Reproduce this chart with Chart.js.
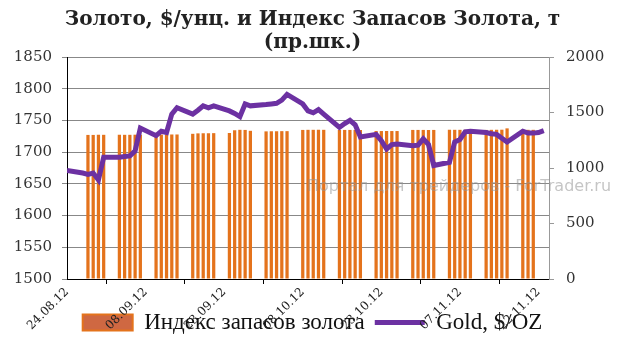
<!DOCTYPE html>
<html>
<head>
<meta charset="utf-8">
<script src="https://cdn.jsdelivr.net/npm/chart.js@4.4.0/dist/chart.umd.min.js"></script>
<style>
  html, body { margin: 0; padding: 0; background: #fff; }
  #wrap { width: 625px; height: 354px; position: relative; }
</style>
</head>
<body>
<div id="wrap"><canvas id="goldChart"></canvas></div>
<script>
// axis runs day by day from 24.08.12 to 24.11.12
const startDay = '24.08';
const endDay = '24.11';
const tickLabels = ['24.08.12', '08.09.12', '23.09.12', '08.10.12', '23.10.12', '07.11.12', '22.11.12'];

// Gold, $/OZ (left axis)
const goldDates = [
  '24.08', '27.08', '28.08', '29.08', '30.08', '31.08',
  '03.09', '04.09', '05.09', '06.09', '07.09',
  '10.09', '11.09', '12.09', '13.09', '14.09',
  '17.09', '18.09', '19.09', '20.09', '21.09',
  '24.09', '25.09', '26.09', '27.09', '28.09',
  '01.10', '02.10', '03.10', '04.10', '05.10',
  '08.10', '09.10', '10.10', '11.10', '12.10',
  '15.10', '16.10', '17.10', '18.10', '19.10',
  '22.10', '23.10', '24.10', '25.10', '26.10',
  '29.10', '30.10', '31.10', '01.11', '02.11',
  '05.11', '06.11', '07.11', '08.11', '09.11',
  '12.11', '13.11', '14.11', '15.11', '16.11',
  '19.11', '20.11', '21.11', '22.11', '23.11'
];
const goldPrice = [
  1671, 1667, 1665, 1667, 1656, 1692,
  1692, 1693, 1694, 1702, 1738,
  1726, 1733, 1731, 1760, 1770,
  1760, 1766, 1773, 1770, 1773,
  1765, 1761, 1756, 1776, 1773,
  1775, 1776, 1777, 1782, 1791,
  1776, 1765, 1762, 1767, 1760,
  1739, 1745, 1750, 1743, 1724,
  1728, 1718, 1705, 1712, 1713,
  1710, 1711, 1721, 1712, 1679,
  1684, 1716, 1720, 1732, 1733,
  1731, 1729, 1728, 1722, 1716,
  1733, 1730, 1730, 1731, 1734
];

// Индекс запасов золота, т (right axis)
const reserveDates = [
  '28.08', '29.08', '30.08', '31.08',
  '03.09', '04.09', '05.09', '06.09', '07.09',
  '10.09', '11.09', '12.09', '13.09', '14.09',
  '17.09', '18.09', '19.09', '20.09', '21.09',
  '24.09', '25.09', '26.09', '27.09', '28.09',
  '01.10', '02.10', '03.10', '04.10', '05.10',
  '08.10', '09.10', '10.10', '11.10', '12.10',
  '15.10', '16.10', '17.10', '18.10', '19.10',
  '22.10', '23.10', '24.10', '25.10', '26.10',
  '29.10', '30.10', '31.10', '01.11', '02.11',
  '05.11', '06.11', '07.11', '08.11', '09.11',
  '12.11', '13.11', '14.11', '15.11', '16.11',
  '19.11', '20.11', '21.11'
];
const reserveTonnes = [
  1298, 1298, 1299, 1299,
  1299, 1299, 1299, 1300, 1300,
  1300, 1301, 1301, 1302, 1302,
  1308, 1312, 1313, 1313, 1314,
  1315, 1340, 1344, 1343, 1335,
  1330, 1331, 1331, 1332, 1332,
  1343, 1344, 1344, 1344, 1344,
  1343, 1343, 1343, 1343, 1343,
  1333, 1333, 1333, 1333, 1333,
  1343, 1343, 1343, 1343, 1343,
  1344, 1344, 1344, 1344, 1344,
  1343, 1344, 1345, 1345, 1357,
  1344, 1344, 1344
];

// days since the first date of the axis
function dayNo(s) {
  const [d, m] = s.split('.').map(Number);
  const [d0, m0] = startDay.split('.').map(Number);
  return (Date.UTC(2012, m - 1, d) - Date.UTC(2012, m0 - 1, d0)) / 86400000;
}

const goldPoints = goldDates.map((s, i) => ({ x: dayNo(s), y: goldPrice[i] }));
const reservePoints = reserveDates.map((s, i) => ({ x: dayNo(s), y: reserveTonnes[i] }));

const serif = '"DejaVu Serif", serif';

// faint site mark over the plot
const watermark = {
  id: 'watermark',
  afterDatasetsDraw(chart) {
    const ctx = chart.ctx;
    ctx.save();
    ctx.font = '16px "DejaVu Sans", sans-serif';
    ctx.fillStyle = 'rgba(150,150,150,0.55)';
    ctx.textBaseline = 'middle';
    ctx.fillText('Портал для трейдеров - ForTrader.ru', 307, 187);
    ctx.restore();
  }
};

// rotated date labels hang down next to the legend, so let them run past the axis box
const longDateLabels = {
  id: 'longDateLabels',
  afterLayout(chart) {
    chart.scales.x.bottom = chart.height;
  }
};

new Chart(document.getElementById('goldChart'), {
  type: 'bar',
  data: {
    datasets: [
      {
        type: 'bar',
        label: 'Индекс запасов золота',
        data: reservePoints,
        yAxisID: 'yR',
        backgroundColor: '#E4731C',
        borderWidth: 0,
        barPercentage: 0.62,
        categoryPercentage: 1,
        pointStyle: 'rect',
        order: 1
      },
      {
        type: 'line',
        label: 'Gold, $/OZ',
        data: goldPoints,
        yAxisID: 'yL',
        borderColor: '#6C31A2',
        backgroundColor: '#6C31A2',
        borderWidth: 5,
        pointRadius: 0,
        tension: 0,
        pointStyle: 'line',
        order: 0
      }
    ]
  },
  options: {
    responsive: true,
    maintainAspectRatio: false,
    animation: false,
    layout: { padding: { left: 0, right: 0, top: 0, bottom: 10 } },
    plugins: {
      title: {
        display: true,
        text: ['Золото, $/унц. и Индекс Запасов Золота, т', '(пр.шк.)'],
        color: '#222',
        font: { family: serif, size: 20, weight: 'bold', lineHeight: 1.15 },
        padding: { top: 8, bottom: 3 }
      },
      legend: {
        position: 'bottom',
        reverse: true,
        labels: {
          usePointStyle: true,
          pointStyleWidth: 50,
          boxHeight: 16,
          padding: 10,
          color: '#111',
          font: { family: '"Liberation Serif", serif', size: 23 },
          generateLabels(chart) {
            const items = Chart.defaults.plugins.legend.labels.generateLabels(chart);
            items.forEach(it => {
              if (it.pointStyle === 'rect') {
                it.fillStyle = '#CF6842';
                it.strokeStyle = '#E4731C';
                it.lineWidth = 2;
              }
            });
            return items;
          }
        }
      },
      tooltip: { enabled: false }
    },
    scales: {
      x: {
        type: 'linear',
        offset: false,
        min: dayNo(startDay),
        max: dayNo(endDay),
        afterFit: s => { s.height = 22; },
        grid: { drawOnChartArea: false, drawTicks: true, tickLength: 5, color: '#000' },
        border: { color: '#000', width: 1 },
        ticks: {
          stepSize: 15,
          includeBounds: false,
          autoSkip: false,
          minRotation: 45,
          maxRotation: 45,
          padding: 1,
          color: '#222',
          font: { family: serif, size: 12 },
          callback: v => tickLabels[v / 15]
        }
      },
      yL: {
        position: 'left',
        min: 1500,
        max: 1850,
        afterFit: s => { s.width = 67; },
        grid: { color: '#888', lineWidth: 1, drawTicks: true, tickLength: 5 },
        border: { color: '#000', width: 1 },
        ticks: {
          stepSize: 50,
          padding: 10,
          color: '#333',
          font: { family: serif, size: 15 },
          callback: v => String(v)
        }
      },
      yR: {
        position: 'right',
        min: 0,
        max: 2000,
        afterFit: s => { s.width = 76; },
        grid: { drawOnChartArea: false, drawTicks: true, tickLength: 5, color: '#999' },
        border: { color: '#999', width: 1 },
        ticks: {
          stepSize: 500,
          padding: 12,
          color: '#333',
          font: { family: serif, size: 15 },
          callback: v => String(v)
        }
      }
    }
  },
  plugins: [watermark, longDateLabels]
});
</script>
</body>
</html>
